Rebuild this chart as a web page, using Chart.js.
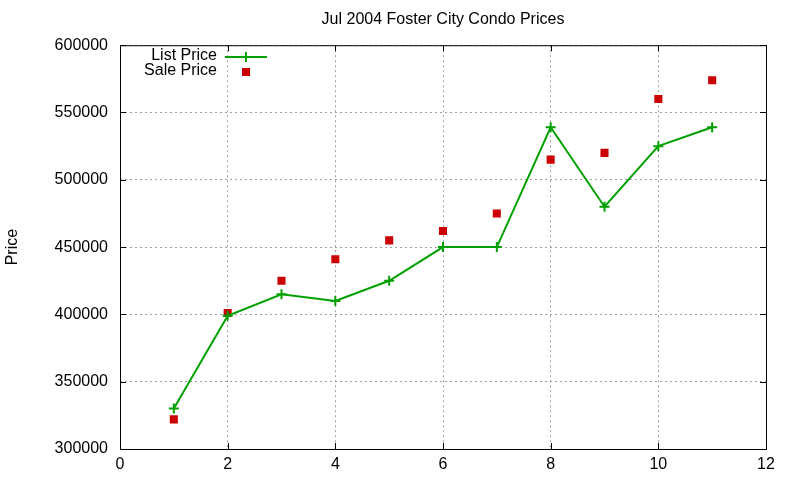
<!DOCTYPE html>
<html>
<head>
<meta charset="utf-8">
<script src="https://cdn.jsdelivr.net/npm/chart.js@4/dist/chart.umd.min.js"></script>
<style>
  html, body { margin: 0; padding: 0; background: #fff; }
  #wrap { width: 800px; height: 480px; }
</style>
</head>
<body>
<div id="wrap"><canvas id="priceChart"></canvas></div>
<script>
// data
const unitNo = [1, 2, 3, 4, 5, 6, 7, 8, 9, 10, 11];
const listPrice = [330000, 399000, 415000, 410000, 425000, 450000, 450000, 539000, 480000, 525000, 539000];
const salePrice = [322000, 401000, 425000, 441000, 455000, 462000, 475000, 515000, 520000, 560000, 574000];
const xTicks = [0, 2, 4, 6, 8, 10, 12];
const yTicks = [300000, 350000, 400000, 450000, 500000, 550000, 600000];

const green = '#00a000';
const red = '#cc0000';
const font = { family: 'Liberation Sans, Arial, sans-serif', size: 16 };

// gnuplot style frame with inward ticks + legend inside plot
const framePlugin = {
  id: 'frame',
  afterDatasetsDraw(chart) {
    const { ctx, chartArea: a, scales } = chart;
    ctx.save();
    ctx.strokeStyle = '#000';
    ctx.lineWidth = 1;
    ctx.strokeRect(a.left + 0.5, a.top + 0.5, a.right - a.left, a.bottom - a.top);
    ctx.beginPath();
    xTicks.forEach(v => {
      const x = Math.round(scales.x.getPixelForValue(v)) + 0.5;
      ctx.moveTo(x, a.bottom); ctx.lineTo(x, a.bottom - 6);
      ctx.moveTo(x, a.top); ctx.lineTo(x, a.top + 6);
    });
    yTicks.forEach(v => {
      const y = Math.round(scales.y.getPixelForValue(v)) + 0.5;
      ctx.moveTo(a.left, y); ctx.lineTo(a.left + 6, y);
      ctx.moveTo(a.right, y); ctx.lineTo(a.right - 6, y);
    });
    ctx.stroke();

    // legend
    ctx.font = font.size + 'px ' + font.family;
    ctx.fillStyle = '#000';
    ctx.textAlign = 'right';
    ctx.textBaseline = 'middle';
    ctx.fillText('List Price', 217, 56);
    ctx.fillText('Sale Price', 217, 71);
    ctx.strokeStyle = green;
    ctx.lineWidth = 2;
    ctx.beginPath();
    ctx.moveTo(225, 57); ctx.lineTo(267, 57);
    ctx.moveTo(246, 52); ctx.lineTo(246, 62);
    ctx.stroke();
    ctx.fillStyle = red;
    ctx.fillRect(242, 68, 8, 8);
    ctx.restore();
  }
};

new Chart(document.getElementById('priceChart'), {
  type: 'line',
  data: {
    datasets: [
      {
        label: 'List Price',
        data: unitNo.map((x, i) => ({ x, y: listPrice[i] })),
        borderColor: green,
        backgroundColor: green,
        borderWidth: 2,
        pointStyle: 'cross',
        pointRadius: 5,
        pointBorderWidth: 2,
        tension: 0
      },
      {
        label: 'Sale Price',
        data: unitNo.map((x, i) => ({ x, y: salePrice[i] })),
        showLine: false,
        backgroundColor: red,
        borderColor: red,
        pointStyle: 'rect',
        pointRadius: 5.7,
        pointBorderWidth: 0
      }
    ]
  },
  options: {
    responsive: true,
    maintainAspectRatio: false,
    animation: false,
    layout: { padding: { left: 0, right: 34, top: 0, bottom: 0 } },
    plugins: {
      legend: { display: false },
      tooltip: { enabled: false },
      title: {
        display: true,
        text: 'Jul 2004 Foster City Condo Prices',
        color: '#000',
        font: { family: font.family, size: 16, weight: 'normal' },
        fullSize: false,
        padding: { top: 10, bottom: 16 }
      }
    },
    scales: {
      x: {
        type: 'linear',
        min: 0,
        max: 12,
        afterBuildTicks(scale) { scale.ticks = xTicks.map(v => ({ value: v })); },
        afterFit(scale) { scale.height = 31; },
        ticks: { color: '#000', font, padding: 6, maxRotation: 0 },
        grid: { color: '#a0a0a0', drawTicks: false },
        border: { display: false, dash: [2, 3] }
      },
      y: {
        min: 300000,
        max: 600000,
        afterBuildTicks(scale) { scale.ticks = yTicks.map(v => ({ value: v })); },
        afterFit(scale) { scale.width = 120; },
        ticks: { color: '#000', font, padding: 12, callback: v => String(v) },
        grid: { color: '#a0a0a0', drawTicks: false },
        border: { display: false, dash: [2, 3] },
        title: {
          display: true,
          text: 'Price',
          color: '#000',
          font,
          padding: { top: 3, bottom: 0 }
        }
      }
    }
  },
  plugins: [framePlugin]
});
</script>
</body>
</html>
